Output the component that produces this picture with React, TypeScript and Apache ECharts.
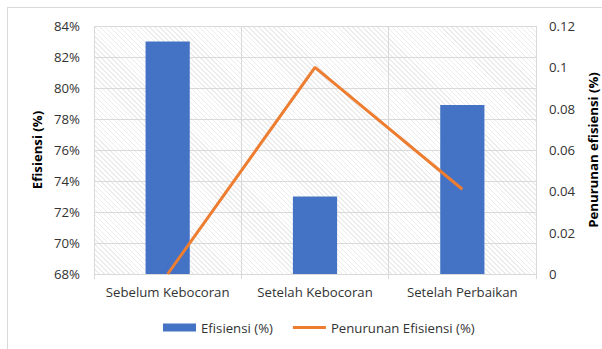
import React, { useEffect, useRef } from "react";
import * as echarts from "echarts";

const categories = ["Sebelum Kebocoran", "Setelah Kebocoran", "Setelah Perbaikan"];
const efisiensi = [83, 73, 78.9];
const penurunan = [0, 0.1, 0.041];

const GRID = { left: 94, right: 66, top: 26, bottom: 75 };
const W = 602;
const H = 349;
const FONT = "Open Sans";
const FS = 13.2;

export default function App() {
  const ref = useRef<HTMLDivElement>(null);
  useEffect(() => {
    document.body.style.margin = "0";
    const chart = echarts.init(ref.current!, null, { renderer: "svg" });
    chart.setOption({
      animation: false,
      backgroundColor: "transparent",
      textStyle: { fontFamily: FONT },
      grid: { ...GRID, containLabel: false, outerBoundsMode: "none" },
      legend: {
        bottom: 10,
        left: 158,
        itemWidth: 33,
        itemHeight: 8,
        itemGap: 20,
        symbolKeepAspect: true,
        textStyle: { fontFamily: FONT, fontSize: FS, color: "#333" },
        data: [
          { name: "Efisiensi (%)", icon: "rect" },
          { name: "Penurunan Efisiensi (%)", icon: "path://M0,0 H33 V3 H0 Z" },
        ],
      },
      xAxis: {
        type: "category",
        data: categories,
        axisLine: { lineStyle: { color: "#d9d9d9" } },
        axisTick: { show: true, interval: 0, length: 5, lineStyle: { color: "#d9d9d9" } },
        splitLine: { show: true, interval: 0, lineStyle: { color: "#d9d9d9" } },
        axisLabel: { interval: 0, fontFamily: FONT, fontSize: FS, color: "#333", margin: 11 },
      },
      yAxis: [
        {
          type: "value",
          min: 68,
          max: 84,
          interval: 2,
          name: "Efisiensi (%)",
          nameLocation: "middle",
          nameGap: 50,
          nameRotate: 90,
          nameTextStyle: { fontFamily: FONT, fontSize: FS, fontWeight: "bold", color: "#000" },
          axisLine: { show: false },
          axisTick: { show: false },
          axisLabel: { formatter: "{value}%", fontFamily: FONT, fontSize: FS, color: "#333", margin: 14 },
          splitLine: { show: true, lineStyle: { color: "#d9d9d9" } },
        },
        {
          type: "value",
          min: 0,
          max: 0.12,
          interval: 0.02,
          position: "right",
          name: "Penurunan efisiensi (%)",
          nameLocation: "middle",
          nameGap: 50,
          nameRotate: 90,
          nameTextStyle: { fontFamily: FONT, fontSize: FS, fontWeight: "bold", color: "#000" },
          axisLine: { show: false },
          axisTick: { show: false },
          axisLabel: { fontFamily: FONT, fontSize: FS, color: "#333", margin: 13 },
          splitLine: { show: false },
        },
      ],
      series: [
        {
          name: "Efisiensi (%)",
          type: "bar",
          data: efisiensi,
          barWidth: "30%",
          itemStyle: { color: "#4472C4" },
        },
        {
          name: "Penurunan Efisiensi (%)",
          type: "line",
          yAxisIndex: 1,
          data: penurunan,
          symbol: "none",
          lineStyle: { color: "#ED7D31", width: 3 },
          itemStyle: { color: "#ED7D31" },
        },
      ],
    });
    return () => chart.dispose();
  }, []);

  return (
    <div style={{ position: "fixed", left: 0, top: 0, width: W, height: H, background: "#fff", overflow: "hidden" }}>
      <div
        style={{
          position: "absolute",
          left: 7,
          top: 7,
          width: 700,
          height: 500,
          border: "1px solid #d9d9d9",
        }}
      />
      <div
        style={{
          position: "absolute",
          left: GRID.left,
          top: GRID.top,
          width: W - GRID.left - GRID.right,
          height: H - GRID.top - GRID.bottom,
          background: "repeating-linear-gradient(45deg, #ececec 0px, #ececec 1px, #ffffff 1px, #ffffff 3.5px)",
        }}
      />
      <div ref={ref} style={{ position: "absolute", left: 0, top: 0, width: W, height: H }} />
    </div>
  );
}
